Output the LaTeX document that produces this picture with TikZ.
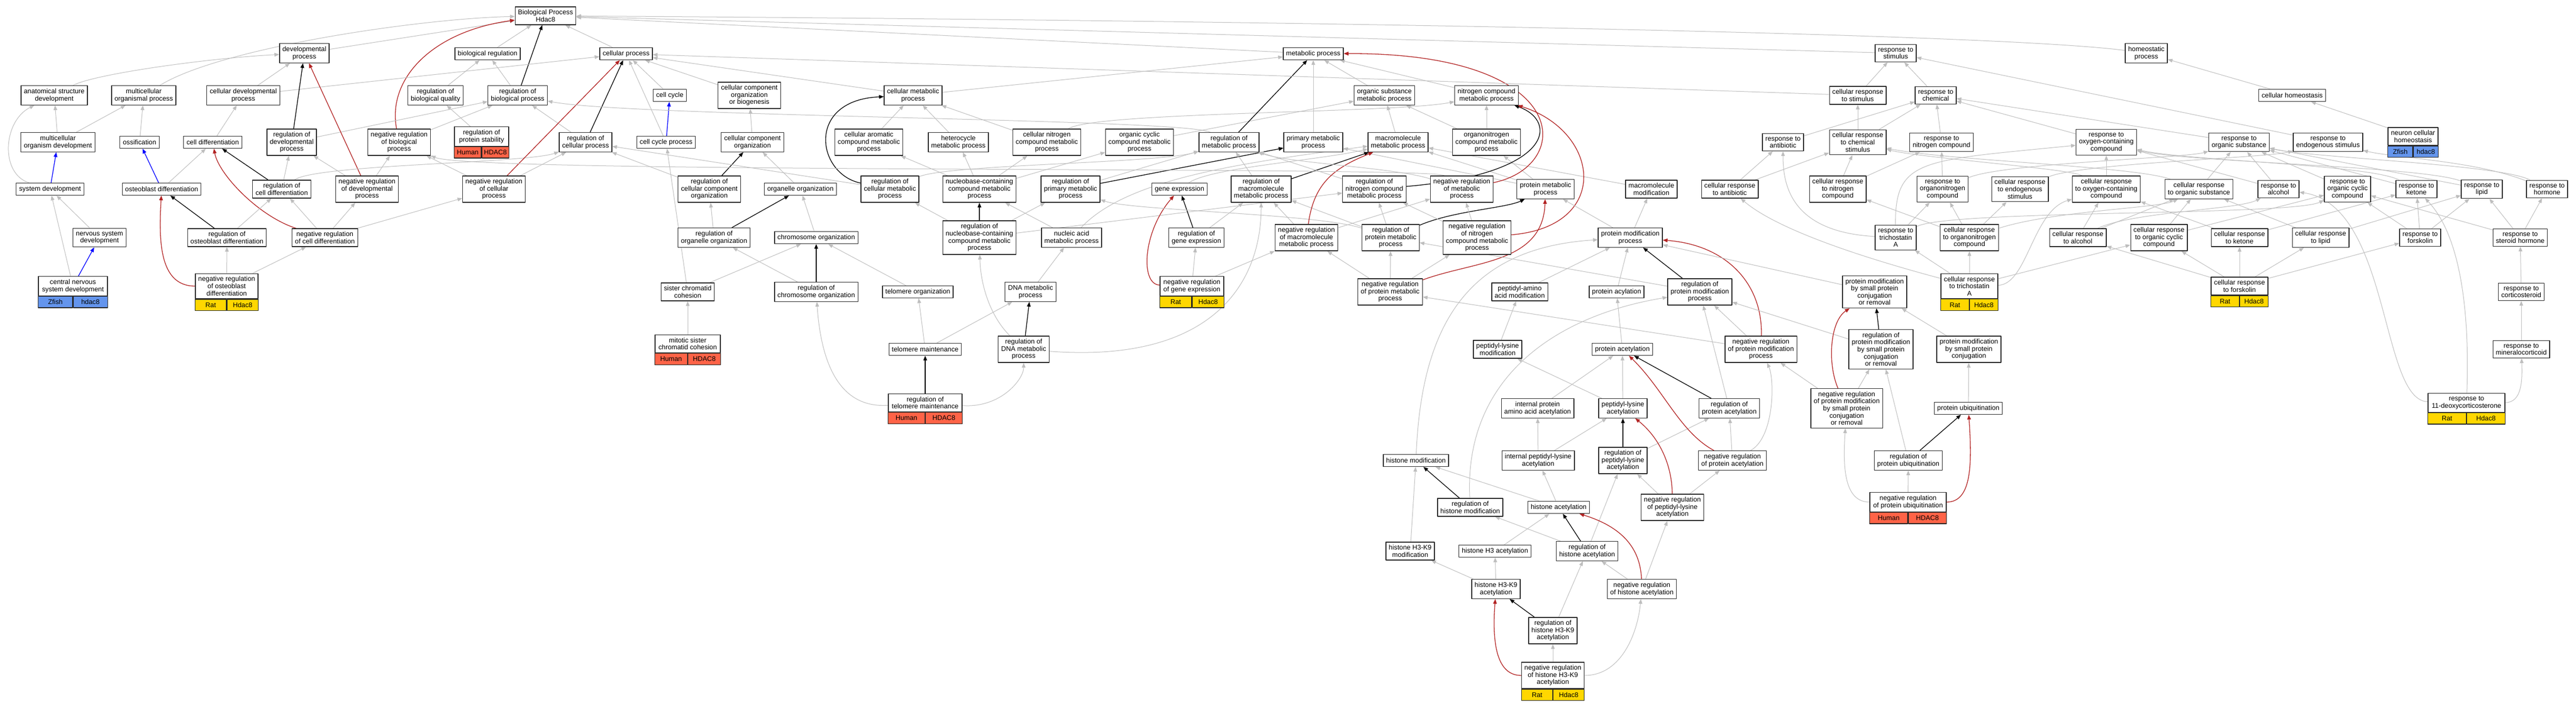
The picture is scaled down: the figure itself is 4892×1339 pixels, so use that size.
\documentclass[tikz,border=0pt]{standalone}
\usepackage{fontspec}
\setmainfont{Liberation Sans}
\usetikzlibrary{arrows.meta}
\definecolor{isagray}{HTML}{BEBEBE}
\definecolor{negred}{HTML}{B22222}
\definecolor{zfishblue}{HTML}{6495ED}
\definecolor{ratgold}{HTML}{FFD700}
\definecolor{humanred}{HTML}{FF6347}
\pgfdeclarelayer{paper}
\pgfdeclarelayer{edges}
\pgfsetlayers{paper,edges,main}
\begin{document}
\begin{tikzpicture}[x=1pt,y=-1pt,>={Triangle[length=9pt,width=7pt]},line join=round,
  term/.style={draw=black!85,line width=1.3pt,fill=white,align=center,inner xsep=5.5pt,inner ysep=5.5pt,minimum height=23pt,font=\fontsize{12.8pt}{13.6pt}\selectfont},
  tag/.style={draw=black!85,line width=1.1pt,inner sep=0pt,minimum height=21.5pt,font=\fontsize{12.8pt}{13.6pt}\selectfont},
  isa/.style={->,draw=isagray,line width=1pt},
  reg/.style={->,draw=black,line width=1.3pt},
  negreg/.style={->,draw=negred,line width=1.3pt},
  partof/.style={->,draw=blue,line width=1.3pt}]
\useasboundingbox (0,0) rectangle (4892,1339);
\begin{pgfonlayer}{paper}
\fill[white] (0,0) rectangle (4892,1339);
\end{pgfonlayer}

\node[term] (bp) at (1036,30) {Biological Process\\Hdac8};
\node[term] (devp) at (578,101) {developmental\\process};
\node[term] (bioreg) at (926,102) {biological regulation};
\node[term] (cellp) at (1189,102) {cellular process};
\node[term] (metp) at (2494,102) {metabolic process};
\node[term] (respstim) at (3600,101) {response to\\stimulus};
\node[term] (homeo) at (4076,101) {homeostatic\\process};

\node[term] (anat) at (103,181) {anatomical structure\\development};
\node[term] (multorg) at (273,181) {multicellular\\organismal process};
\node[term] (celldevp) at (462,181) {cellular developmental\\process};
\node[term] (regbioq) at (827,181) {regulation of\\biological quality};
\node[term] (regbiop) at (983,181) {regulation of\\biological process};
\node[term] (cellcyc) at (1272,181) {cell cycle};
\node[term] (ccob) at (1423,181) {cellular component\\organization\\or biogenesis};
\node[term] (cellmet) at (1734,181) {cellular metabolic\\process};
\node[term] (orgsub) at (2629,181) {organic substance\\metabolic process};
\node[term] (nitro) at (2823,181) {nitrogen compound\\metabolic process};
\node[term] (crstim) at (3528,181) {cellular response\\to stimulus};
\node[term] (respchem) at (3676,181) {response to\\chemical};
\node[term] (cellhomeo) at (4353,181) {cellular homeostasis};

\node[term] (multdev) at (110,270) {multicellular\\organism development};
\node[term] (ossif) at (265,270) {ossification};
\node[term] (celldiff) at (404,270) {cell differentiation};
\node[term] (regdevp) at (554,270) {regulation of\\developmental\\process};
\node[term] (negbiop) at (758,270) {negative regulation\\of biological\\process};
\node[term,minimum width=103pt] (regprotstab) at (914.5,259) {regulation of\\protein stability};
\node[tag,fill=humanred,minimum width=51.5pt,anchor=north east] (regprotstab-sp) at (regprotstab.south) {Human};
\node[tag,fill=humanred,minimum width=51.5pt,anchor=north west] (regprotstab-gn) at (regprotstab.south) {HDAC8};
\node[term] (regcellp) at (1112,270) {regulation of\\cellular process};
\node[term] (ccp) at (1265,270) {cell cycle process};
\node[term] (cco) at (1429,270) {cellular component\\organization};
\node[term] (arom) at (1650,270) {cellular aromatic\\compound metabolic\\process};
\node[term] (hetero) at (1820,270) {heterocycle\\metabolic process};
\node[term] (cnitro) at (1988,270) {cellular nitrogen\\compound metabolic\\process};
\node[term] (orgcyc) at (2164,270) {organic cyclic\\compound metabolic\\process};
\node[term] (regmet) at (2334,270) {regulation of\\metabolic process};
\node[term] (primet) at (2494,270) {primary metabolic\\process};
\node[term] (macromet) at (2655,270) {macromolecule\\metabolic process};
\node[term] (orgnitro) at (2823,270) {organonitrogen\\compound metabolic\\process};
\node[term] (respanti) at (3386,270) {response to\\antibiotic};
\node[term] (crchem) at (3528,270) {cellular response\\to chemical\\stimulus};
\node[term] (respnitro) at (3687,270) {response to\\nitrogen compound};
\node[term] (respoxy) at (4000,270) {response to\\oxygen-containing\\compound};
\node[term] (resporg) at (4252,270) {response to\\organic substance};
\node[term] (respendo) at (4421,270) {response to\\endogenous stimulus};
\node[term,minimum width=95pt] (neurhomeo) at (4582.5,259) {neuron cellular\\homeostasis};
\node[tag,fill=zfishblue,minimum width=47.5pt,anchor=north east] (neurhomeo-sp) at (neurhomeo.south) {Zfish};
\node[tag,fill=zfishblue,minimum width=47.5pt,anchor=north west] (neurhomeo-gn) at (neurhomeo.south) {hdac8};

\node[term] (sysdev) at (95,359) {system development};
\node[term] (osteo) at (307,359) {osteoblast differentiation};
\node[term] (regcelldiff) at (535,359) {regulation of\\cell differentiation};
\node[term] (negdevp) at (697,359) {negative regulation\\of developmental\\process};
\node[term] (negcellp) at (938,359) {negative regulation\\of cellular\\process};
\node[term] (regcco) at (1347,359) {regulation of\\cellular component\\organization};
\node[term] (organelle) at (1520,359) {organelle organization};
\node[term] (regcellmet) at (1690,359) {regulation of\\cellular metabolic\\process};
\node[term] (nucleo) at (1860,359) {nucleobase-containing\\compound metabolic\\process};
\node[term] (regprimet) at (2033,359) {regulation of\\primary metabolic\\process};
\node[term] (geneexp) at (2240,359) {gene expression};
\node[term] (regmacro) at (2395,359) {regulation of\\macromolecule\\metabolic process};
\node[term] (regnitro) at (2610,359) {regulation of\\nitrogen compound\\metabolic process};
\node[term] (negmet) at (2776,359) {negative regulation\\of metabolic\\process};
\node[term] (protmet) at (2935,359) {protein metabolic\\process};
\node[term] (macromod) at (3136,359) {macromolecule\\modification};
\node[term] (cranti) at (3285,359) {cellular response\\to antibiotic};
\node[term] (crnitro) at (3490,359) {cellular response\\to nitrogen\\compound};
\node[term] (resporgnitro) at (3689,359) {response to\\organonitrogen\\compound};
\node[term] (crendo) at (3836,359) {cellular response\\to endogenous\\stimulus};
\node[term] (croxy) at (4000,359) {cellular response\\to oxygen-containing\\compound};
\node[term] (crorg) at (4176,359) {cellular response\\to organic substance};
\node[term] (respalc) at (4327,359) {response to\\alcohol};
\node[term] (resporgcyc) at (4458,359) {response to\\organic cyclic\\compound};
\node[term] (respket) at (4589,359) {response to\\ketone};
\node[term] (resplip) at (4713,359) {response to\\lipid};
\node[term] (resphorm) at (4837,359) {response to\\hormone};

\node[term] (nervdev) at (189,451) {nervous system\\development};
\node[term] (regosteo) at (431,451) {regulation of\\osteoblast differentiation};
\node[term] (negcelldiff) at (617,451) {negative regulation\\of cell differentiation};
\node[term] (regorganelle) at (1356,451) {regulation of\\organelle organization};
\node[term] (chromo) at (1550,451) {chromosome organization};
\node[term] (regnucleo) at (1860,451) {regulation of\\nucleobase-containing\\compound metabolic\\process};
\node[term] (nucacid) at (2035,451) {nucleic acid\\metabolic process};
\node[term] (reggene) at (2272,451) {regulation of\\gene expression};
\node[term] (negmacro) at (2481,451) {negative regulation\\of macromolecule\\metabolic process};
\node[term] (regprotmet) at (2641,451) {regulation of\\protein metabolic\\process};
\node[term] (negnitro) at (2805,451) {negative regulation\\of nitrogen\\compound metabolic\\process};
\node[term] (protmod) at (3096,451) {protein modification\\process};
\node[term] (resptsa) at (3600,451) {response to\\trichostatin\\A};
\node[term] (crorgnitro) at (3740,451) {cellular response\\to organonitrogen\\compound};
\node[term] (cralc) at (3946,451) {cellular response\\to alcohol};
\node[term] (crorgcyc) at (4100,451) {cellular response\\to organic cyclic\\compound};
\node[term] (crket) at (4253,451) {cellular response\\to ketone};
\node[term] (crlip) at (4407,451) {cellular response\\to lipid};
\node[term] (respfsk) at (4596,451) {response to\\forskolin};
\node[term] (respster) at (4786,451) {response to\\steroid hormone};

\node[term,minimum width=131pt] (cnsdev) at (138.5,543) {central nervous\\system development};
\node[tag,fill=zfishblue,minimum width=65.5pt,anchor=north east] (cnsdev-sp) at (cnsdev.south) {Zfish};
\node[tag,fill=zfishblue,minimum width=65.5pt,anchor=north west] (cnsdev-gn) at (cnsdev.south) {hdac8};
\node[term,minimum width=119pt] (negosteo) at (430.5,543) {negative regulation\\of osteoblast\\differentiation};
\node[tag,fill=ratgold,minimum width=59.5pt,anchor=north east] (negosteo-sp) at (negosteo.south) {Rat};
\node[tag,fill=ratgold,minimum width=59.5pt,anchor=north west] (negosteo-gn) at (negosteo.south) {Hdac8};
\node[term] (sister) at (1306,554) {sister chromatid\\cohesion};
\node[term] (regchromo) at (1550,554) {regulation of\\chromosome organization};
\node[term] (telorg) at (1743,554) {telomere organization};
\node[term] (dnamet) at (1957,554) {DNA metabolic\\process};
\node[term,minimum width=121pt] (neggene) at (2263.5,543) {negative regulation\\of gene expression};
\node[tag,fill=ratgold,minimum width=60.5pt,anchor=north east] (neggene-sp) at (neggene.south) {Rat};
\node[tag,fill=ratgold,minimum width=60.5pt,anchor=north west] (neggene-gn) at (neggene.south) {Hdac8};
\node[term] (negprotmet) at (2640,554) {negative regulation\\of protein metabolic\\process};
\node[term] (peptaa) at (2886,554) {peptidyl-amino\\acid modification};
\node[term] (protacyl) at (3070,554) {protein acylation};
\node[term] (regprotmod) at (3228,554) {regulation of\\protein modification\\process};
\node[term] (pmsmall) at (3560,554) {protein modification\\by small protein\\conjugation\\or removal};
\node[term,minimum width=108pt] (crtsa) at (3740,543) {cellular response\\to trichostatin\\A};
\node[tag,fill=ratgold,minimum width=54pt,anchor=north east] (crtsa-sp) at (crtsa.south) {Rat};
\node[tag,fill=ratgold,minimum width=54pt,anchor=north west] (crtsa-gn) at (crtsa.south) {Hdac8};
\node[term,minimum width=108pt] (crfsk) at (4253,543) {cellular response\\to forskolin};
\node[tag,fill=ratgold,minimum width=54pt,anchor=north east] (crfsk-sp) at (crfsk.south) {Rat};
\node[tag,fill=ratgold,minimum width=54pt,anchor=north west] (crfsk-gn) at (crfsk.south) {Hdac8};
\node[term] (respcort) at (4788,554) {response to\\corticosteroid};

\node[term,minimum width=124pt] (mitotic) at (1306,652.5) {mitotic sister\\chromatid cohesion};
\node[tag,fill=humanred,minimum width=62pt,anchor=north east] (mitotic-sp) at (mitotic.south) {Human};
\node[tag,fill=humanred,minimum width=62pt,anchor=north west] (mitotic-gn) at (mitotic.south) {HDAC8};
\node[term] (telmaint) at (1757,663) {telomere maintenance};
\node[term] (regdna) at (1944,663) {regulation of\\DNA metabolic\\process};
\node[term] (peptlys) at (2844,663) {peptidyl-lysine\\modification};
\node[term] (protacet) at (3081,663) {protein acetylation};
\node[term] (negprotmod) at (3344,663) {negative regulation\\of protein modification\\process};
\node[term] (regpmsmall) at (3572,663) {regulation of\\protein modification\\by small protein\\conjugation\\or removal};
\node[term] (pmsconj) at (3739,663) {protein modification\\by small protein\\conjugation};
\node[term] (respmin) at (4788,663) {response to\\mineralocorticoid};

\node[term,minimum width=140pt] (regtel) at (1757,764.5) {regulation of\\telomere maintenance};
\node[tag,fill=humanred,minimum width=70pt,anchor=north east] (regtel-sp) at (regtel.south) {Human};
\node[tag,fill=humanred,minimum width=70pt,anchor=north west] (regtel-gn) at (regtel.south) {HDAC8};
\node[term] (intprot) at (2920,775) {internal protein\\amino acid acetylation};
\node[term] (peptlysacet) at (3082,775) {peptidyl-lysine\\acetylation};
\node[term] (regprotacet) at (3284,775) {regulation of\\protein acetylation};
\node[term] (negpmsmall) at (3507,775) {negative regulation\\of protein modification\\by small protein\\conjugation\\or removal};
\node[term] (protubi) at (3738,775) {protein ubiquitination};
\node[term,minimum width=146pt] (resp11) at (4684,764.5) {response to\\11-deoxycorticosterone};
\node[tag,fill=ratgold,minimum width=73pt,anchor=north east] (resp11-sp) at (resp11.south) {Rat};
\node[tag,fill=ratgold,minimum width=73pt,anchor=north west] (resp11-gn) at (resp11.south) {Hdac8};

\node[term] (histmod) at (2689,874) {histone modification};
\node[term] (intpeptlys) at (2921,874) {internal peptidyl-lysine\\acetylation};
\node[term] (regpeptlys) at (3082,874) {regulation of\\peptidyl-lysine\\acetylation};
\node[term] (negprotacet) at (3290,874) {negative regulation\\of protein acetylation};
\node[term] (regprotubi) at (3624,874) {regulation of\\protein ubiquitination};

\node[term] (reghistmod) at (2792,963) {regulation of\\histone modification};
\node[term] (histacet) at (2960,963) {histone acetylation};
\node[term] (negpeptlys) at (3176,963) {negative regulation\\of peptidyl-lysine\\acetylation};
\node[term,minimum width=145pt] (negprotubi) at (3623.5,953) {negative regulation\\of protein ubiquitination};
\node[tag,fill=humanred,minimum width=72.5pt,anchor=north east] (negprotubi-sp) at (negprotubi.south) {Human};
\node[tag,fill=humanred,minimum width=72.5pt,anchor=north west] (negprotubi-gn) at (negprotubi.south) {HDAC8};

\node[term] (h3k9mod) at (2678,1046) {histone H3-K9\\modification};
\node[term] (h3acet) at (2839,1046) {histone H3 acetylation};
\node[term] (reghistacet) at (3014,1046) {regulation of\\histone acetylation};
\node[term] (h3k9acet) at (2841,1118) {histone H3-K9\\acetylation};
\node[term] (neghistacet) at (3118,1118) {negative regulation\\of histone acetylation};
\node[term] (regh3k9) at (2949,1197) {regulation of\\histone H3-K9\\acetylation};
\node[term,minimum width=118pt] (negh3k9) at (2949,1282) {negative regulation\\of histone H3-K9\\acetylation};
\node[tag,fill=ratgold,minimum width=59pt,anchor=north east] (negh3k9-sp) at (negh3k9.south) {Rat};
\node[tag,fill=ratgold,minimum width=59pt,anchor=north west] (negh3k9-gn) at (negh3k9.south) {Hdac8};

\begin{pgfonlayer}{edges}
\path (devp) edge[isa] (bp);
\draw[isa] (multorg) .. controls (420,90) and (800,35) .. (bp);
\path (bioreg) edge[isa] (bp);
\path (cellp) edge[isa] (bp);
\path (metp) edge[isa] (bp);
\path (respstim) edge[isa] (bp);
\draw[isa] (homeo) .. controls (3800,65) and (2600,40) .. (bp);
\draw[negreg] (negbiop) .. controls (735,150) and (820,60) .. (bp);
\path (regbiop) edge[reg] (bp);

\draw[isa] (anat) .. controls (180,140) and (400,110) .. (devp);
\path (celldevp) edge[isa] (devp) edge[isa] (cellp);
\path (regdevp) edge[reg] (devp) edge[isa] (regbiop);
\path (negdevp) edge[negreg] (devp) edge[isa] (regdevp) edge[isa] (negbiop);
\path (multdev) edge[isa] (anat) edge[isa] (multorg);
\path (ossif) edge[isa] (multorg);
\path (celldiff) edge[isa] (celldevp);
\draw[isa] (sysdev) .. controls (0,330) and (5,230) .. (anat);
\path (sysdev) edge[partof] (multdev);
\path (osteo) edge[partof] (ossif) edge[isa] (celldiff);
\path (regcelldiff) edge[reg] (celldiff) edge[isa] (regdevp);
\draw[isa] (regcelldiff) .. controls (600,312) and (1000,310) .. (regcellp);
\path (negcelldiff) edge[isa] (regcelldiff) edge[isa] (negdevp) edge[isa] (negcellp);
\draw[negreg] (negcelldiff) .. controls (490,410) and (415,330) .. (celldiff);
\path (regosteo) edge[reg] (osteo) edge[isa] (regcelldiff);
\path (nervdev) edge[isa] (sysdev);
\path (cnsdev) edge[isa] (sysdev) edge[partof] (nervdev);
\draw[negreg] (negosteo) .. controls (300,543) and (302,450) .. (osteo);
\path (negosteo) edge[isa] (regosteo) edge[isa] (negcelldiff);

\path (negbiop) edge[isa] (regbiop);
\path (regbioq) edge[isa] (bioreg);
\path (regbiop) edge[isa] (bioreg);
\path (regprotstab) edge[isa] (regbioq);
\path (regcellp) edge[isa] (regbiop) edge[reg] (cellp);
\path (negcellp) edge[isa] (regcellp) edge[isa] (negbiop) edge[negreg] (cellp);
\path (ccp) edge[isa] (cellp) edge[partof] (cellcyc);
\path (cellcyc) edge[isa] (cellp);
\path (ccob) edge[isa] (cellp);
\path (cco) edge[isa] (ccob);
\path (regcco) edge[reg] (cco) edge[isa] (regcellp);
\path (organelle) edge[isa] (cco);
\path (regorganelle) edge[isa] (regcco) edge[reg] (organelle);
\path (chromo) edge[isa] (organelle);
\path (regchromo) edge[reg] (chromo) edge[isa] (regorganelle);
\path (sister) edge[isa] (chromo) edge[isa] (ccp);
\path (mitotic) edge[isa] (sister);

\path (cellmet) edge[isa] (metp) edge[isa] (cellp);
\path (arom) edge[isa] (cellmet);
\path (hetero) edge[isa] (cellmet);
\path (cnitro) edge[isa] (cellmet);
\draw[isa] (cnitro) .. controls (2080,212) and (2650,215) .. (nitro);
\path (orgcyc) edge[isa] (orgsub);
\draw[isa] (regmet) .. controls (2250,225) and (1200,222) .. (regbiop);
\path (regmet) edge[reg] (metp);
\path (primet) edge[isa] (metp);
\path (orgsub) edge[isa] (metp);
\path (nitro) edge[isa] (metp);
\path (macromet) edge[isa] (orgsub);
\path (orgnitro) edge[isa] (nitro) edge[isa] (orgsub);
\path (protmet) edge[isa] (primet) edge[isa] (macromet) edge[isa] (orgnitro);
\path (macromod) edge[isa] (macromet);

\draw[reg] (regcellmet) .. controls (1550,330) and (1530,190) .. (cellmet);
\path (regcellmet) edge[isa] (regcellp);
\draw[isa] (regcellmet) .. controls (1800,312) and (2200,310) .. (regmet);
\path (nucleo) edge[isa] (arom) edge[isa] (hetero) edge[isa] (cnitro) edge[isa] (orgcyc);
\path (regprimet) edge[isa] (regmet) edge[reg] (primet);
\draw[isa] (geneexp) .. controls (2300,318) and (2500,305) .. (macromet);
\path (regmacro) edge[isa] (regmet) edge[reg] (macromet);
\path (regnitro) edge[isa] (regmet);
\draw[reg] (regnitro) .. controls (2950,330) and (2960,230) .. (nitro);
\path (regnucleo) edge[reg] (nucleo) edge[isa] (regcellmet) edge[isa] (regprimet) edge[isa] (regnitro);
\path (nucacid) edge[isa] (nucleo);
\draw[isa] (nucacid) .. controls (2140,340) and (2350,310) .. (macromet);
\path (reggene) edge[reg] (geneexp) edge[isa] (regmacro);
\draw[negreg] (neggene) .. controls (2165,540) and (2170,440) .. (geneexp);
\path (neggene) edge[isa] (reggene) edge[isa] (negmacro);

\path (regprotmet) edge[isa] (regmacro) edge[isa] (regnitro);
\draw[isa] (regprotmet) .. controls (2500,405) and (2150,400) .. (regprimet);
\draw[reg] (regprotmet) .. controls (2760,400) and (2860,395) .. (protmet);
\path (negmacro) edge[isa] (regmacro) edge[isa] (negmet);
\draw[negreg] (negmacro) .. controls (2495,350) and (2530,320) .. (macromet);
\path (negnitro) edge[isa] (negmet) edge[isa] (regnitro);
\draw[negreg] (negnitro) .. controls (3060,430) and (3040,250) .. (nitro);
\path (negprotmet) edge[isa] (regprotmet) edge[isa] (negmacro) edge[isa] (negnitro);
\draw[negreg] (negprotmet) .. controls (2800,495) and (2930,500) .. (protmet);
\draw[isa] (negmet) .. controls (2650,318) and (2450,310) .. (regmet);
\draw[isa] (negmet) .. controls (2720,315) and (900,330) .. (negbiop);
\draw[negreg] (negmet) .. controls (2990,315) and (2990,100) .. (metp);

\path (protmod) edge[isa] (protmet) edge[isa] (macromod);
\path (peptaa) edge[isa] (protmod);
\path (protacyl) edge[isa] (protmod);
\path (regprotmod) edge[reg] (protmod) edge[isa] (regprotmet);
\draw[negreg] (negprotmod) .. controls (3348,540) and (3280,465) .. (protmod);
\path (negprotmod) edge[isa] (regprotmod) edge[isa] (negprotmet);
\path (pmsmall) edge[isa] (protmod);
\path (regpmsmall) edge[reg] (pmsmall) edge[isa] (regprotmod);
\path (pmsconj) edge[isa] (pmsmall);
\draw[negreg] (negpmsmall) .. controls (3470,690) and (3475,610) .. (pmsmall);
\path (negpmsmall) edge[isa] (regpmsmall) edge[isa] (negprotmod);
\path (protubi) edge[isa] (pmsconj);
\path (regprotubi) edge[reg] (protubi) edge[isa] (regpmsmall);
\path (negprotubi) edge[isa] (regprotubi);
\draw[negreg] (negprotubi) .. controls (3745,953) and (3745,880) .. (protubi);
\draw[isa] (negprotubi) .. controls (3500,953) and (3500,880) .. (negpmsmall);

\path (peptlys) edge[isa] (peptaa);
\path (protacet) edge[isa] (protacyl);
\path (peptlysacet) edge[isa] (peptlys) edge[isa] (protacet);
\path (intprot) edge[isa] (protacet);
\path (intpeptlys) edge[isa] (intprot) edge[isa] (peptlysacet);
\path (regpeptlys) edge[reg] (peptlysacet) edge[isa] (regprotacet);
\path (negpeptlys) edge[isa] (regpeptlys) edge[isa] (negprotacet);
\draw[negreg] (negpeptlys) .. controls (3175,880) and (3150,830) .. (peptlysacet);
\path (regprotacet) edge[reg] (protacet) edge[isa] (regprotmod);
\path (negprotacet) edge[isa] (regprotacet);
\draw[negreg] (negprotacet) .. controls (3190,820) and (3160,740) .. (protacet);
\draw[isa] (negprotacet) .. controls (3370,830) and (3370,720) .. (negprotmod);

\draw[isa] (histmod) .. controls (2700,600) and (2800,470) .. (protmod);
\draw[isa] (reghistmod) .. controls (2780,720) and (2950,600) .. (regprotmod);
\path (histacet) edge[isa] (histmod) edge[isa] (intpeptlys);
\path (reghistmod) edge[reg] (histmod);
\path (reghistacet) edge[reg] (histacet) edge[isa] (reghistmod) edge[isa] (regpeptlys);
\path (neghistacet) edge[isa] (reghistacet) edge[isa] (negpeptlys);
\draw[negreg] (neghistacet) .. controls (3115,1040) and (3080,1000) .. (histacet);
\path (h3k9mod) edge[isa] (histmod);
\path (h3k9acet) edge[isa] (h3k9mod) edge[isa] (h3acet);
\path (h3acet) edge[isa] (histacet);
\path (regh3k9) edge[reg] (h3k9acet) edge[isa] (reghistacet);
\path (negh3k9) edge[isa] (regh3k9);
\draw[negreg] (negh3k9) .. controls (2835,1282) and (2835,1200) .. (h3k9acet);
\draw[isa] (negh3k9) .. controls (3080,1282) and (3110,1200) .. (neghistacet);

\path (regtel) edge[reg] (telmaint);
\draw[isa] (regtel) .. controls (1600,775) and (1560,700) .. (regchromo);
\draw[isa] (regtel) .. controls (1900,775) and (1944,720) .. (regdna);
\path (telmaint) edge[isa] (telorg) edge[isa] (dnamet);
\path (telorg) edge[isa] (chromo);
\path (dnamet) edge[isa] (nucacid);
\path (regdna) edge[reg] (dnamet);
\draw[isa] (regdna) .. controls (1880,600) and (1862,540) .. (regnucleo);
\draw[isa] (regdna) .. controls (2300,690) and (2395,540) .. (regmacro);

\path (crstim) edge[isa] (respstim) edge[isa] (cellp);
\path (respchem) edge[isa] (respstim);
\path (crchem) edge[isa] (crstim) edge[isa] (respchem);
\path (respanti) edge[isa] (respchem);
\path (respnitro) edge[isa] (respchem);
\path (respoxy) edge[isa] (respchem);
\path (resporg) edge[isa] (respchem);
\path (respendo) edge[isa] (respstim);
\path (cellhomeo) edge[isa] (homeo);
\path (neurhomeo) edge[isa] (cellhomeo);
\path (cranti) edge[isa] (respanti) edge[isa] (crchem);
\path (crnitro) edge[isa] (crchem) edge[isa] (respnitro);
\path (resporgnitro) edge[isa] (respnitro);
\draw[isa] (resporgnitro) .. controls (3800,310) and (4150,300) .. (resporg);
\draw[isa] (crendo) .. controls (3950,310) and (4300,300) .. (respendo);
\path (croxy) edge[isa] (respoxy);
\draw[isa] (croxy) .. controls (3930,320) and (3650,300) .. (crchem);
\path (crorg) edge[isa] (resporg);
\draw[isa] (crorg) .. controls (4050,315) and (3700,305) .. (crchem);
\path (respalc) edge[isa] (resporg) edge[isa] (respoxy);
\path (resporgcyc) edge[isa] (resporg);
\path (respket) edge[isa] (resporg);
\draw[isa] (respket) .. controls (4500,312) and (4150,305) .. (respoxy);
\path (resplip) edge[isa] (resporg);
\draw[isa] (resplip) .. controls (4600,315) and (4150,308) .. (respoxy);
\draw[isa] (resphorm) .. controls (4700,305) and (4550,300) .. (respendo);
\draw[isa] (resphorm) .. controls (4750,312) and (4400,300) .. (resporg);

\draw[isa] (resptsa) .. controls (3400,440) and (3386,350) .. (respanti);
\path (resptsa) edge[isa] (resporgnitro);
\draw[isa] (resptsa) .. controls (3598,300) and (3650,305) .. (respoxy);
\draw[isa] (resptsa) .. controls (3700,398) and (4350,410) .. (resporgcyc);
\path (crorgnitro) edge[isa] (resporgnitro) edge[isa] (crnitro) edge[isa] (crendo);
\draw[isa] (crorgnitro) .. controls (3900,400) and (4100,395) .. (crorg);
\path (cralc) edge[isa] (croxy) edge[isa] (crorg);
\draw[isa] (cralc) .. controls (4050,402) and (4250,398) .. (respalc);
\path (crorgcyc) edge[isa] (crorg) edge[isa] (resporgcyc);
\path (crket) edge[isa] (respket) edge[isa] (croxy);
\path (crlip) edge[isa] (resplip) edge[isa] (crorg);
\path (respfsk) edge[isa] (resporgcyc) edge[isa] (respket) edge[isa] (resplip);
\path (respster) edge[isa] (resplip) edge[isa] (resphorm) edge[isa] (resporgcyc);
\path (respcort) edge[isa] (respster);
\path (respmin) edge[isa] (respcort);
\draw[isa] (resp11) .. controls (4790,764) and (4790,720) .. (respmin);
\draw[isa] (resp11) .. controls (4520,760) and (4540,390) .. (respalc);
\draw[isa] (resp11) .. controls (4690,600) and (4675,450) .. (respket);
\path (crtsa) edge[isa] (resptsa) edge[isa] (crorgnitro) edge[isa] (crorgcyc);
\draw[isa] (crtsa) .. controls (3560,495) and (3380,440) .. (cranti);
\draw[isa] (crtsa) .. controls (3850,540) and (3860,400) .. (croxy);
\path (crfsk) edge[isa] (crket) edge[isa] (crlip) edge[isa] (respfsk) edge[isa] (crorgcyc) edge[isa] (cralc);
\end{pgfonlayer}
\end{tikzpicture}
\end{document}
